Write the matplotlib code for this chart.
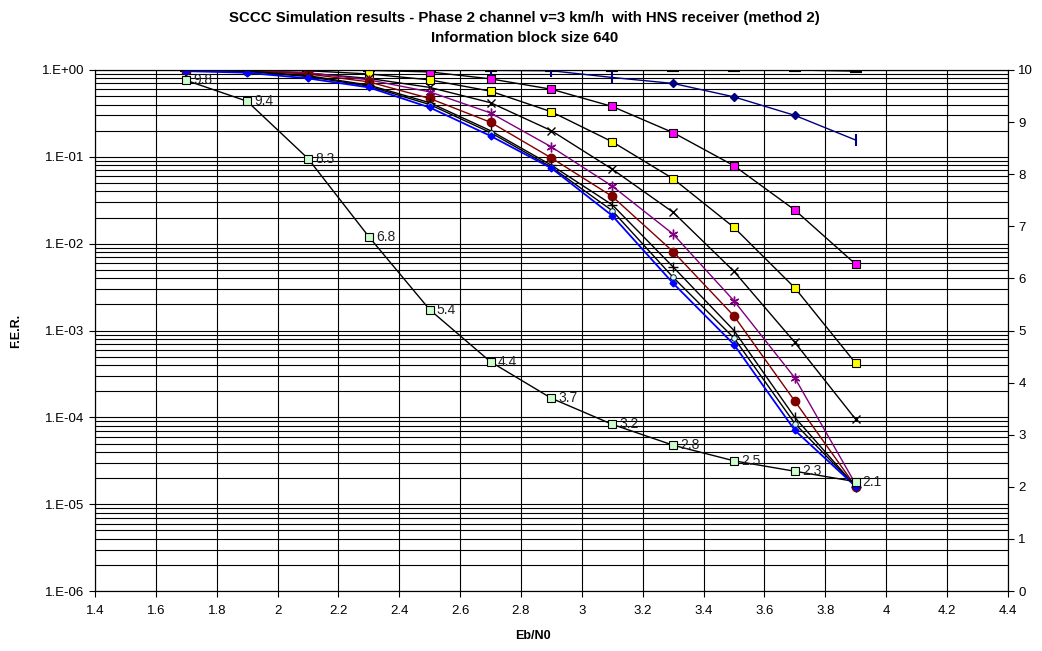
import math
import matplotlib
matplotlib.use("Agg")
import matplotlib.pyplot as plt
from matplotlib.ticker import LogLocator, FixedLocator, FuncFormatter, NullFormatter

plt.rcParams['font.family'] = ['Liberation Sans', 'DejaVu Sans']

ebn0 = [1.7, 1.9, 2.1, 2.3, 2.5, 2.7, 2.9, 3.1, 3.3, 3.5, 3.7, 3.9]

fer_top = [1.0, 1.0, 1.0, 1.0, 1.0, 1.0, 1.0, 1.0, 1.0, 1.0, 1.0, 0.97]
fer_navy = [1.0, 1.0, 1.0, 1.0, 0.99, 0.99, 0.98, 0.82, 0.70, 0.49, 0.30, 0.156]
fer_magenta = [1.0, 1.0, 1.0, 0.99, 0.95, 0.79, 0.60, 0.38, 0.19, 0.079, 0.0244, 0.0058]
fer_yellow = [1.0, 0.99, 0.98, 0.90, 0.77, 0.57, 0.33, 0.149, 0.056, 0.0154, 0.0031, 0.00042]
fer_cross = [1.0, 0.99, 0.92, 0.80, 0.63, 0.42, 0.20, 0.072, 0.023, 0.0048, 0.00073, 0.000095]
fer_purple = [1.0, 0.98, 0.93, 0.77, 0.56, 0.32, 0.13, 0.046, 0.0129, 0.0022, 0.000285, 0.000017]
fer_red = [1.0, 0.98, 0.90, 0.73, 0.47, 0.25, 0.097, 0.035, 0.0081, 0.00147, 0.000154, 0.000016]
fer_plus = [1.0, 0.97, 0.86, 0.67, 0.42, 0.20, 0.080, 0.028, 0.0054, 0.0010, 0.000100, 0.000016]
fer_circle = [1.0, 0.96, 0.84, 0.65, 0.40, 0.19, 0.076, 0.024, 0.0041, 0.00082, 0.000085, 0.000016]
fer_blue = [0.97, 0.93, 0.80, 0.63, 0.37, 0.174, 0.074, 0.021, 0.0035, 0.00069, 0.000071, 0.000016]

# valori asse secondario (etichettati sul grafico)
iterations = [9.8, 9.4, 8.3, 6.8, 5.4, 4.4, 3.7, 3.2, 2.8, 2.5, 2.3, 2.1]

x_ticks = [1.4, 1.6, 1.8, 2.0, 2.2, 2.4, 2.6, 2.8, 3.0, 3.2, 3.4, 3.6, 3.8, 4.0, 4.2, 4.4]

fig = plt.figure(figsize=(10.42, 6.51), dpi=100)
ax = fig.add_axes([0.0912, 0.092, 0.876, 0.8005])

lw = 1.0
ax.plot(ebn0, fer_top, color='black', lw=lw, marker='_', ms=8, mew=3)
ax.plot(ebn0, fer_navy, color='#000080', lw=lw, marker='D', ms=4,
        markevery=[8, 9, 10])
ax.plot([ebn0[i] for i in (0, 1, 2, 3, 4, 5, 6, 7, 11)],
        [fer_navy[i] for i in (0, 1, 2, 3, 4, 5, 6, 7, 11)],
        ls='none', color='#000080', marker='|', ms=8, mew=1.5)
ax.plot(ebn0, fer_magenta, color='black', lw=lw, marker='s', ms=6,
        mfc='#FF00FF', mec='black', mew=0.8)
ax.plot(ebn0, fer_yellow, color='black', lw=lw, marker='s', ms=6,
        mfc='#FFFF00', mec='black', mew=0.8)
ax.plot(ebn0, fer_cross, color='black', lw=lw, marker='x', ms=6, mew=1)
ax.plot(ebn0, fer_purple, color='#800080', lw=lw, marker=(6, 2, 0), ms=7, mew=1)
ax.plot(ebn0, fer_red, color='#800000', lw=lw, marker='o', ms=6)
ax.plot(ebn0, fer_plus, color='black', lw=lw, marker='+', ms=7, mew=1)
ax.plot(ebn0, fer_circle, color='black', lw=lw, marker='o', ms=4,
        mfc='#CCFFFF', mec='black', mew=0.6)
ax.plot(ebn0, fer_blue, color='#0000FF', lw=1.3, marker='D', ms=3.5)

ax.set_yscale('log')
ax.set_ylim(1e-6, 1)
ax.set_xlim(1.4, 4.4)
ax.xaxis.set_major_locator(FixedLocator(x_ticks))
ax.xaxis.set_major_formatter(FuncFormatter(lambda v, p: f"{v:g}"))
ax.yaxis.set_major_locator(LogLocator(base=10, numticks=10))
ax.yaxis.set_minor_locator(LogLocator(base=10, subs=range(2, 10), numticks=100))
ax.yaxis.set_major_formatter(FuncFormatter(lambda v, p: "1.E%+03d" % round(math.log10(v))))
ax.yaxis.set_minor_formatter(NullFormatter())
ax.tick_params(axis='y', which='minor', length=0)
ax.tick_params(axis='both', which='major', labelsize=9.5, length=4, direction='out')
ax.tick_params(axis='x', which='major', pad=6)
ax.grid(True, which='major', axis='both', color='black', lw=0.8)
ax.grid(True, which='minor', axis='y', color='black', lw=0.8)
ax.set_axisbelow(True)
for s in ax.spines.values():
    s.set_color('black')
    s.set_linewidth(0.8)

ax.set_xlabel('Eb/N0', fontsize=9, fontweight='bold')
ax.set_ylabel('F.E.R.', fontsize=9, fontweight='bold')
ax.xaxis.set_label_coords(0.48, -0.075)
ax.yaxis.set_label_coords(-0.08, 0.5)

ax2 = ax.twinx()
ax2.set_ylim(0, 10)
ax2.yaxis.set_major_locator(FixedLocator(range(0, 11)))
ax2.tick_params(axis='y', labelsize=9.5, length=4, direction='out')
ax2.plot(ebn0, iterations, color='black', lw=lw, marker='s', ms=6,
         mfc='#CCFFCC', mec='black', mew=0.8)
for xv, yv in zip(ebn0, iterations):
    ax2.annotate(f"{yv:.1f}", (xv, yv), xytext=(5, 0), textcoords='offset points',
                 va='center', ha='left', fontsize=10, color='#222222')

fig.text(0.503, 0.972, "SCCC Simulation results - Phase 2 channel v=3 km/h  with HNS receiver (method 2)",
         ha='center', va='center', fontsize=10.8, fontweight='bold')
fig.text(0.503, 0.942, "Information block size 640",
         ha='center', va='center', fontsize=10.8, fontweight='bold')

fig.savefig('out.png', dpi=100)
